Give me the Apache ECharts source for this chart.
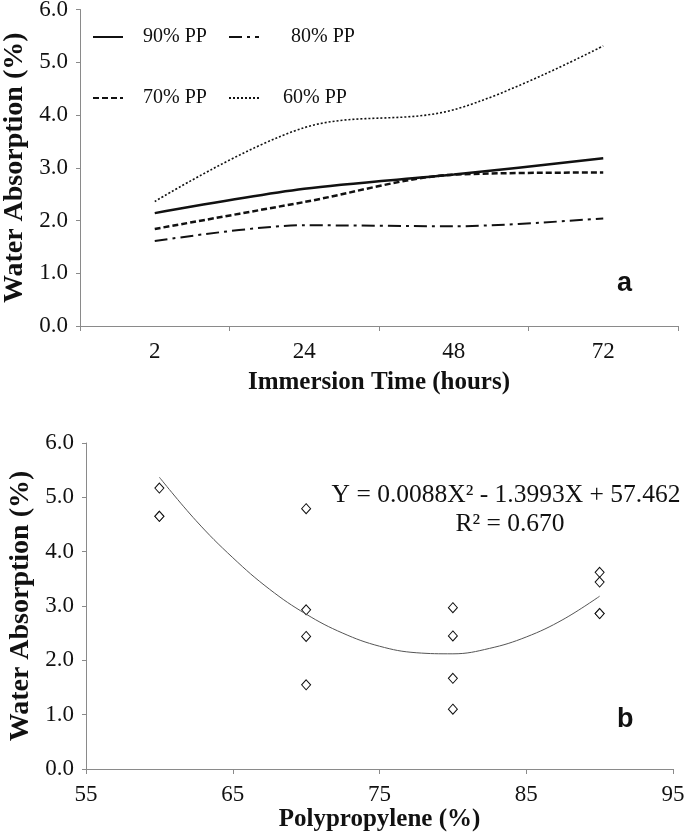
<!DOCTYPE html>
<html>
<head>
<meta charset="utf-8">
<script src="https://cdn.jsdelivr.net/npm/echarts@6/dist/echarts.min.js"></script>
<style>html,body{margin:0;padding:0;background:#fff;}#chart{width:685px;height:834px;}</style>
</head>
<body>
<div id="chart"></div>
<script>
// ---- Panel a data ----
var times = ['2', '24', '48', '72'];
var pp90 = [2.14, 2.60, 2.87, 3.18];
var pp80 = [1.61, 1.91, 1.89, 2.04];
var pp70 = [1.84, 2.35, 2.87, 2.91];
var pp60 = [2.36, 3.76, 4.10, 5.31];
var yTicks = [0, 1, 2, 3, 4, 5, 6];

// ---- Panel b data ----
var ppContent = [60, 60, 60, 70, 70, 70, 70, 80, 80, 80, 80, 90, 90, 90, 90];
var absorption = [5.17, 4.65, 4.65, 4.79, 2.93, 2.44, 1.55, 2.97, 2.45, 1.67, 1.10, 3.62, 3.44, 2.86, 2.86];
// trend curve
var trendX = [60, 62.5, 65, 67.5, 70, 72.5, 75, 77.5, 80, 82.5, 85, 87.5, 90];
var trendY = [5.37, 4.57, 3.89, 3.31, 2.85, 2.50, 2.26, 2.14, 2.12, 2.22, 2.43, 2.75, 3.18];
var xTicksB = [55, 65, 75, 85, 95];
var equationText = 'Y = 0.0088X\u00B2 - 1.3993X + 57.462';
var r2Text = 'R\u00B2 = 0.670';

var SERIF = 'Liberation Serif';
var AX = '#8a8a8a';
var INK = '#111';

function pairs(xs, ys) { return xs.map(function (x, i) { return [x, ys[i]]; }); }

var chart = echarts.init(document.getElementById('chart'), null, {renderer: 'canvas'});

function yAxisCfg(gi) {
  return {
    gridIndex: gi, type: 'value', min: 0, max: 6, interval: 1,
    axisLine: {show: true, lineStyle: {color: AX, width: 1}},
    axisTick: {show: true, length: 4, lineStyle: {color: AX}},
    splitLine: {show: false},
    axisLabel: {color: INK, fontFamily: SERIF, fontSize: 23, margin: 12,
      formatter: function (v) { return v.toFixed(1); }},
    name: 'Water Absorption (%)', nameLocation: 'middle', nameGap: 48,
    nameTextStyle: {color: INK, fontFamily: SERIF, fontSize: 28, fontWeight: 'bold'}
  };
}

function legendItem(name, left, top, pad) {
  return {
    left: left, top: top, padding: 0, itemWidth: 30, itemHeight: 14,
    itemStyle: {opacity: 0},
    data: [{name: name, textStyle: {padding: [0, 0, 0, pad]}}],
    textStyle: {color: INK, fontFamily: SERIF, fontSize: 20, lineHeight: 20}
  };
}

var option = {
  backgroundColor: '#fff',
  animation: false,
  grid: [
    {left: 80, top: 9.5, width: 598, height: 316.5, containLabel: false, outerBoundsMode: 'none'},
    {left: 86, top: 443, width: 587, height: 326, containLabel: false, outerBoundsMode: 'none'}
  ],
  legend: [
    legendItem('90% PP', 92, 27, 15),
    legendItem('80% PP', 228, 27, 27),
    legendItem('70% PP', 92, 88, 15),
    legendItem('60% PP', 228, 88, 19)
  ],
  xAxis: [
    {
      gridIndex: 0, type: 'category', data: times, boundaryGap: true,
      axisLine: {lineStyle: {color: AX, width: 1}},
      axisTick: {show: true, length: 5, lineStyle: {color: AX}},
      axisLabel: {color: INK, fontFamily: SERIF, fontSize: 23, margin: 14},
      name: 'Immersion Time (hours)', nameLocation: 'middle', nameGap: 44,
      nameTextStyle: {color: INK, fontFamily: SERIF, fontSize: 25, fontWeight: 'bold'}
    },
    {
      gridIndex: 1, type: 'value', min: 55, max: 95, interval: 10,
      axisLine: {show: true, lineStyle: {color: AX, width: 1}},
      axisTick: {show: true, length: 5, lineStyle: {color: AX}},
      splitLine: {show: false},
      axisLabel: {color: INK, fontFamily: SERIF, fontSize: 23, margin: 14},
      name: 'Polypropylene (%)', nameLocation: 'middle', nameGap: 38,
      nameTextStyle: {color: INK, fontFamily: SERIF, fontSize: 25, fontWeight: 'bold'}
    }
  ],
  yAxis: [yAxisCfg(0), yAxisCfg(1)],
  series: [
    {name: '90% PP', type: 'line', xAxisIndex: 0, yAxisIndex: 0, data: pp90, smooth: 0.3,
      symbol: 'none', lineStyle: {color: INK, width: 2.5, type: 'solid'}, itemStyle: {color: INK}},
    {name: '80% PP', type: 'line', xAxisIndex: 0, yAxisIndex: 0, data: pp80, smooth: 0.3,
      symbol: 'none', lineStyle: {color: INK, width: 2, type: [13, 5, 3, 5]}, itemStyle: {color: INK}},
    {name: '70% PP', type: 'line', xAxisIndex: 0, yAxisIndex: 0, data: pp70, smooth: 0.3,
      symbol: 'none', lineStyle: {color: INK, width: 2.5, type: [6, 3]}, itemStyle: {color: INK}},
    {name: '60% PP', type: 'line', xAxisIndex: 0, yAxisIndex: 0, data: pp60, smooth: 0.35,
      symbol: 'none', lineStyle: {color: INK, width: 1.6, type: [2, 2]}, itemStyle: {color: INK}},
    {name: 'trend', type: 'line', xAxisIndex: 1, yAxisIndex: 1, data: pairs(trendX, trendY), smooth: 0.4,
      symbol: 'none', lineStyle: {color: '#555', width: 1}, silent: true},
    {name: 'samples', type: 'scatter', xAxisIndex: 1, yAxisIndex: 1, data: pairs(ppContent, absorption),
      symbol: 'diamond', symbolSize: [9, 10],
      itemStyle: {color: '#fff', borderColor: INK, borderWidth: 1, opacity: 1}}
  ],
  graphic: [
    {type: 'text', left: 617, top: 270, style: {text: 'a', font: 'bold 27px "Liberation Sans"', fill: INK}},
    {type: 'text', left: 617, top: 706, style: {text: 'b', font: 'bold 27px "Liberation Sans"', fill: INK}},
    {type: 'text', x: 506, y: 495, style: {text: equationText, font: '25.5px "Liberation Serif"', fill: INK,
      textAlign: 'center', textVerticalAlign: 'middle'}},
    {type: 'text', x: 510, y: 524, style: {text: r2Text, font: '25.5px "Liberation Serif"', fill: INK,
      textAlign: 'center', textVerticalAlign: 'middle'}}
  ]
};
chart.setOption(option);
</script>
</body>
</html>
